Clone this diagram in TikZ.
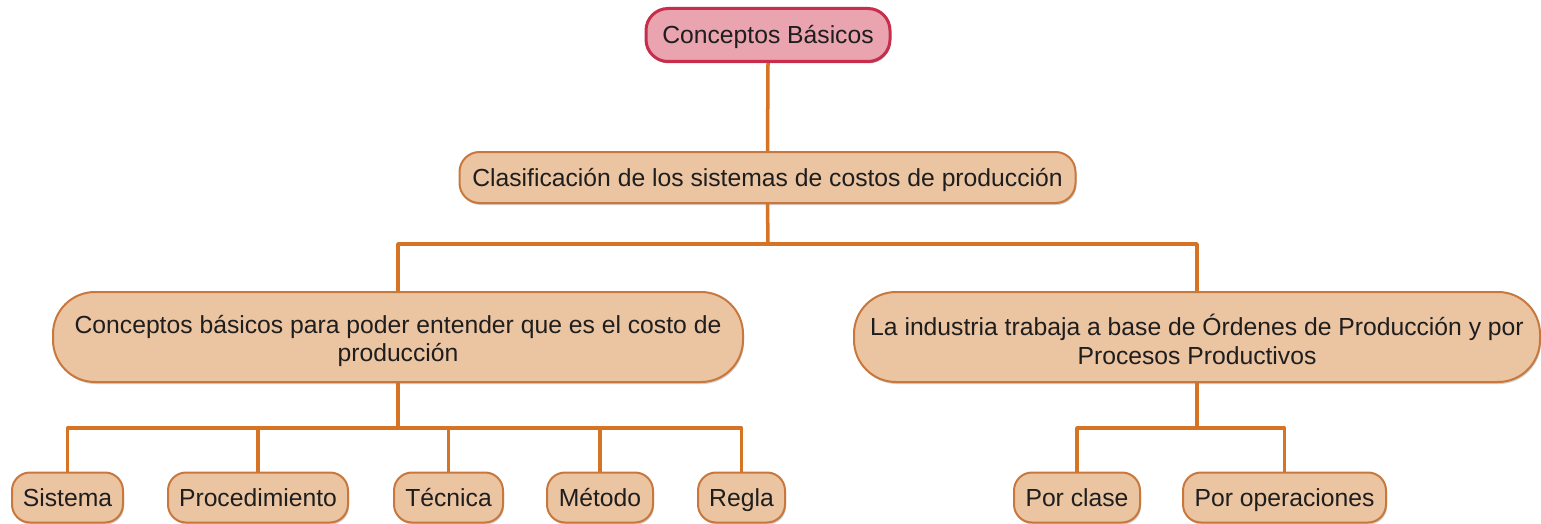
\documentclass[tikz,border=0pt]{standalone}
\usepackage{fontspec}
\setmainfont{Liberation Sans}
\usetikzlibrary{shadows}
\definecolor{lineor}{RGB}{214,116,38}
\definecolor{boxfill}{RGB}{235,196,161}
\definecolor{boxdraw}{RGB}{200,120,60}
\definecolor{pinkfill}{RGB}{233,164,175}
\definecolor{pinkdraw}{RGB}{200,45,75}
\definecolor{txt}{RGB}{30,30,30}
\newcommand{\firststrut}{\rule{0pt}{26pt}}
\tikzset{
  basebox/.style={fill=boxfill, draw=boxdraw, line width=2pt, text=txt,
    font=\fontsize{24.7}{28.5}\selectfont, inner sep=0pt, align=center,
    drop shadow={shadow xshift=1pt, shadow yshift=-2pt, opacity=0.3, fill=black!60}},
  leafbox/.style={basebox, rounded corners=18pt, minimum height=50pt, text height=18pt, text depth=1pt},
  midbox/.style={basebox, rounded corners=20pt, minimum height=51pt, text height=18pt, text depth=1pt},
  bigbox/.style={basebox, rounded corners=42pt, minimum height=90pt},
  rootbox/.style={basebox, fill=pinkfill, draw=pinkdraw, line width=3pt,
    rounded corners=22pt, minimum height=53pt, text height=18pt, text depth=1pt,
    drop shadow={shadow xshift=0.5pt, shadow yshift=-1.5pt, opacity=0.55, fill=black!70}},
  conn/.style={draw=lineor, line width=3.5pt, line join=round}
}
\begin{document}
\begin{tikzpicture}[x=1pt,y=-1pt]
\fill[white] (0,0) rectangle (1541,524);
\useasboundingbox (0,0) rectangle (1541,524);

\node[rootbox, minimum width=244pt] (top) at (768,35) {Conceptos Básicos};
\node[midbox, minimum width=616pt] (n2) at (767.5,177.5) {Clasificación de los sistemas de costos de producción};
\node[bigbox, minimum width=690pt] (n3) at (398,337) {\firststrut Conceptos básicos para poder entender que es el costo de\\producción};
\node[bigbox, minimum width=686pt] (n4) at (1197,337) {\firststrut La industria trabaja a base de Órdenes de Producción y por\\Procesos Productivos};

\node[leafbox, minimum width=111pt] (l1) at (67.5,497.5) {Sistema};
\node[leafbox, minimum width=180pt] (l2) at (258,497.5) {Procedimiento};
\node[leafbox, minimum width=109pt] (l3) at (448.5,497.5) {Técnica};
\node[leafbox, minimum width=106pt] (l4) at (600,497.5) {Método};
\node[leafbox, minimum width=87pt] (l5) at (741.5,497.5) {Regla};
\node[leafbox, minimum width=126pt] (r1) at (1077,497.5) {Por clase};
\node[leafbox, minimum width=203pt] (r2) at (1284.5,497.5) {Por operaciones};

\coordinate (b1) at (768,244);
\coordinate (b2) at (398,428);
\coordinate (b3) at (1197,428);

\draw[conn] (top.south) -- (n2.north);
\draw[conn] (n2.south) -- (b1);
\draw[conn] (n3.north) |- (b1) -| (n4.north);
\draw[conn] (n3.south) -- (b2);
\draw[conn] (l1.north) |- (b2) -| (l5.north);
\draw[conn] (b2) -| (l2.north);
\draw[conn] (b2) -| (l3.north);
\draw[conn] (b2) -| (l4.north);
\draw[conn] (n4.south) -- (b3);
\draw[conn] (r1.north) |- (b3) -| (r2.north);
\end{tikzpicture}
\end{document}
